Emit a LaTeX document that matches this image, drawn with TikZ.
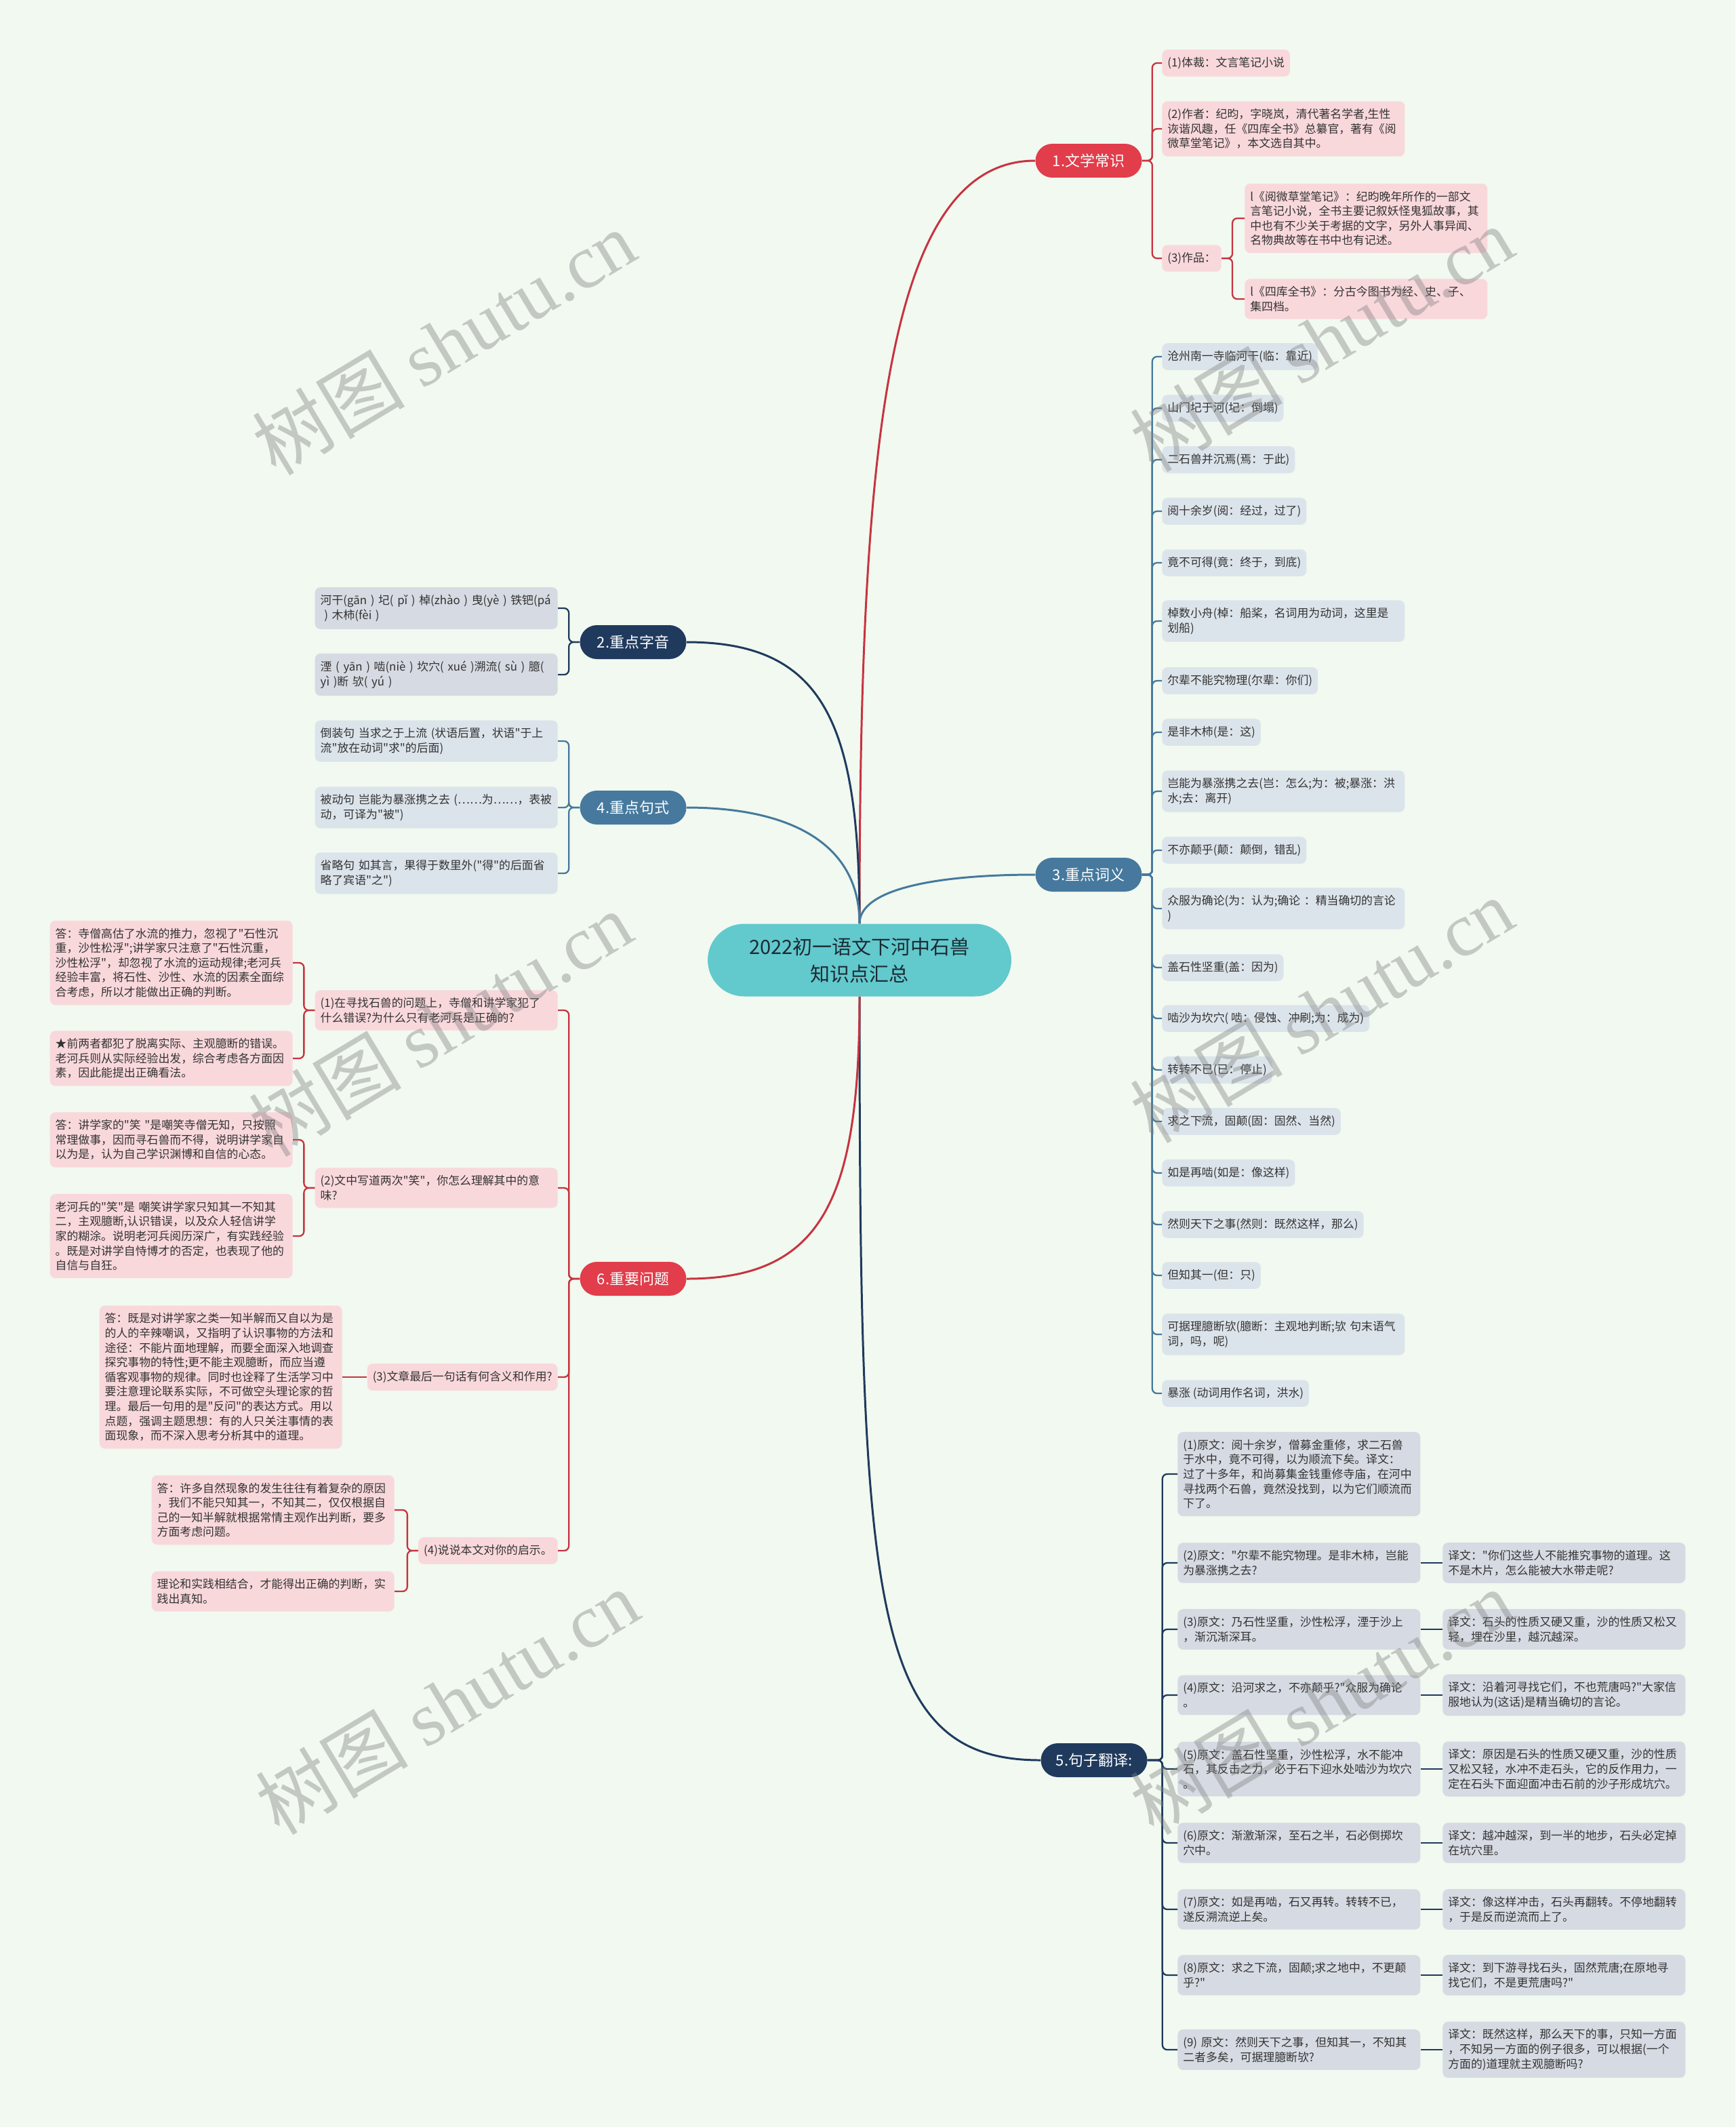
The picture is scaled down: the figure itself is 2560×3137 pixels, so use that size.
\documentclass[tikz,border=0pt]{standalone}
\usepackage{fontspec}
\setmainfont{Noto Sans CJK SC}[Ligatures=TeXOff]
\newfontfamily\wmlatin{Liberation Serif}
\usetikzlibrary{positioning}

\definecolor{bgmint}{HTML}{F1F9F0}
\definecolor{rootteal}{HTML}{62C9CD}
\definecolor{roottext}{HTML}{1B2B33}
\definecolor{redmain}{HTML}{E13D4B}
\definecolor{redline}{HTML}{C73340}
\definecolor{navymain}{HTML}{1F3A5D}
\definecolor{steelmain}{HTML}{46799D}
\definecolor{leafpink}{HTML}{F9D8DC}
\definecolor{leafgray}{HTML}{D6DAE2}
\definecolor{leafblue}{HTML}{DCE4EB}
\definecolor{leaftext}{HTML}{333333}

\begin{document}
\begin{tikzpicture}[x=0.02cm, y=-0.02cm,
    root/.style={rectangle, rounded corners=1.07cm, fill=rootteal, text=roottext,
      minimum width=8.96cm, minimum height=2.14cm, align=center,
      font=\fontsize{16.5pt}{22.7pt}\selectfont},
    topic/.style={rectangle, rounded corners=0.5cm, text=white,
      minimum width=3.14cm, minimum height=1cm, inner xsep=0.3cm,
      font=\fontsize{12.5pt}{15pt}\selectfont},
    leaf/.style={rectangle, rounded corners=0.16cm, text=leaftext, align=left,
      inner xsep=0.16cm, inner ysep=0.22cm, minimum height=0.76cm,
      font=\fontsize{9.6pt}{12.3pt}\selectfont},
    pinkbox/.style={leaf, fill=leafpink},
    graybox/.style={leaf, fill=leafgray},
    bluebox/.style={leaf, fill=leafblue},
    wide/.style={text width=6.84cm},
    mainlink/.style={line width=1.7pt},
    sublink/.style={line width=1.3pt, rounded corners=0.14cm},
    wmark/.style={text=gray, opacity=0.4, rotate=31,
      font=\fontsize{64pt}{64pt}\selectfont}]

  % canvas
  \fill[bgmint] (0,0) rectangle (2560,3137);
  \useasboundingbox (0,0) rectangle (2560,3137);

  % Centre topic
  \node[root] (root) at (1268,1416) {2022初一语文下河中石兽\\知识点汇总};

  % Main branches
  \node[topic, fill=redmain] (wx) at (1606,237) {1.文学常识};
  \node[topic, fill=navymain] (zy) at (934,947) {2.重点字音};
  \node[topic, fill=steelmain] (cy) at (1606,1290) {3.重点词义};
  \node[topic, fill=steelmain] (jx) at (934,1191) {4.重点句式};
  \node[topic, fill=navymain] (fy) at (1614,2596) {5.句子翻译:};
  \node[topic, fill=redmain] (wt) at (934,1886) {6.重要问题};

  \draw[mainlink, redline] (root.north) .. controls +(0,-700) and +(-220,0) .. (wx.west);
  \draw[mainlink, navymain] (root.north) .. controls +(0,-300) and +(200,0) .. (zy.east);
  \draw[mainlink, steelmain] (root.north) .. controls +(0,-50) and +(-150,0) .. (cy.west);
  \draw[mainlink, steelmain] (root.north) .. controls +(0,-120) and +(150,0) .. (jx.east);
  \draw[mainlink, navymain] (root.south) .. controls +(0,900) and +(-250,0) .. (fy.west);
  \draw[mainlink, redline] (root.south) .. controls +(0,300) and +(200,0) .. (wt.east);

  % 1. 文学常识
  \node[pinkbox, anchor=west] (wx1) at (1714,93) {(1)体裁：文言笔记小说};
  \node[pinkbox, wide, anchor=west] (wx2) at (1714,190) {(2)作者：纪昀，字晓岚，清代著名学者,生性\\诙谐风趣，任《四库全书》总纂官，著有《阅\\微草堂笔记》，本文选自其中。};
  \node[pinkbox, anchor=west] (wx3) at (1714,381) {(3)作品：};
  \node[pinkbox, wide, anchor=west] (wx31) at (1836,322) {l《阅微草堂笔记》：纪昀晚年所作的一部文\\言笔记小说，全书主要记叙妖怪鬼狐故事，其\\中也有不少关于考据的文字，另外人事异闻、\\名物典故等在书中也有记述。};
  \node[pinkbox, wide, anchor=west] (wx32) at (1836,441) {l《四库全书》：分古今图书为经、史、子、\\集四档。};

  \foreach \leaf in {wx1,wx2,wx3}
    \draw[sublink, redline] (wx.east) -- ++(15,0) |- (\leaf.west);
  \foreach \leaf in {wx31,wx32}
    \draw[sublink, redline] (wx3.east) -- ++(16,0) |- (\leaf.west);

  % 2. 重点字音
  \node[graybox, wide, anchor=east] (zy1) at (823,897) {河干(gān~)~圮(~pǐ~)~棹(zhào~)~曳(yè~)~铁钯(pá\\~)~木柿(fèi~)};
  \node[graybox, wide, anchor=east] (zy2) at (823,995) {湮~(~yān~)~啮(niè~)~坎穴(~xué~)溯流(~sù~)~臆(\\yì~)断~欤(~yú~)};

  \foreach \leaf in {zy1,zy2}
    \draw[sublink, navymain] (zy.west) -- ++(-16,0) |- (\leaf.east);

  % 4. 重点句式
  \node[bluebox, wide, anchor=east] (jx1) at (823,1093) {倒装句~当求之于上流~(状语后置，状语"于上\\流"放在动词"求"的后面)};
  \node[bluebox, wide, anchor=east] (jx2) at (823,1191) {被动句~岂能为暴涨携之去~(……为……，表被\\动，可译为"被")};
  \node[bluebox, wide, anchor=east] (jx3) at (823,1288) {省略句~如其言，果得于数里外("得"的后面省\\略了宾语"之")};

  \foreach \leaf in {jx1,jx2,jx3}
    \draw[sublink, steelmain] (jx.west) -- ++(-16,0) |- (\leaf.east);

  % 3. 重点词义
  \node[bluebox, anchor=west] (cy1) at (1714,526) {沧州南一寺临河干(临：靠近)};
  \node[bluebox, anchor=west] (cy2) at (1714,602) {山门圮于河(圮：倒塌)};
  \node[bluebox, anchor=west] (cy3) at (1714,678) {二石兽并沉焉(焉：于此)};
  \node[bluebox, anchor=west] (cy4) at (1714,754) {阅十余岁(阅：经过，过了)};
  \node[bluebox, anchor=west] (cy5) at (1714,830) {竟不可得(竟：终于，到底)};
  \node[bluebox, wide, anchor=west] (cy6) at (1714,916) {棹数小舟(棹：船桨，名词用为动词，这里是\\划船)};
  \node[bluebox, anchor=west] (cy7) at (1714,1004) {尔辈不能究物理(尔辈：你们)};
  \node[bluebox, anchor=west] (cy8) at (1714,1080) {是非木柿(是：这)};
  \node[bluebox, wide, anchor=west] (cy9) at (1714,1167) {岂能为暴涨携之去(岂：怎么;为：被;暴涨：洪\\水;去：离开)};
  \node[bluebox, anchor=west] (cy10) at (1714,1254) {不亦颠乎(颠：颠倒，错乱)};
  \node[bluebox, wide, anchor=west] (cy11) at (1714,1340) {众服为确论(为：认为;确论~：精当确切的言论\\)};
  \node[bluebox, anchor=west] (cy12) at (1714,1427) {盖石性坚重(盖：因为)};
  \node[bluebox, anchor=west] (cy13) at (1714,1502) {啮沙为坎穴( 啮：侵蚀、冲刷;为：成为)};
  \node[bluebox, anchor=west] (cy14) at (1714,1578) {转转不已(已：停止)};
  \node[bluebox, anchor=west] (cy15) at (1714,1654) {求之下流，固颠(固：固然、当然)};
  \node[bluebox, anchor=west] (cy16) at (1714,1730) {如是再啮(如是：像这样)};
  \node[bluebox, anchor=west] (cy17) at (1714,1806) {然则天下之事(然则：既然这样，那么)};
  \node[bluebox, anchor=west] (cy18) at (1714,1881) {但知其一(但：只)};
  \node[bluebox, wide, anchor=west] (cy19) at (1714,1968) {可据理臆断欤(臆断：主观地判断;欤~句末语气\\词，吗，呢)};
  \node[bluebox, anchor=west] (cy20) at (1714,2055) {暴涨 (动词用作名词，洪水)};

  \foreach \n in {1,...,20}
    \draw[sublink, steelmain] (cy.east) -- ++(15,0) |- (cy\n.west);

  % 5. 句子翻译: 原文 and 译文
  \node[graybox, wide, anchor=west] (fy1) at (1737,2174) {(1)原文：阅十余岁，僧募金重修，求二石兽\\于水中，竟不可得，以为顺流下矣。译文：\\过了十多年，和尚募集金钱重修寺庙，在河中\\寻找两个石兽，竟然没找到，以为它们顺流而\\下了。};
  \node[graybox, wide, anchor=west] (fy2) at (1737,2305) {(2)原文："尔辈不能究物理。是非木柿，岂能\\为暴涨携之去?};
  \node[graybox, wide, anchor=west] (fy3) at (1737,2403) {(3)原文：乃石性坚重，沙性松浮，湮于沙上\\，渐沉渐深耳。};
  \node[graybox, wide, anchor=west] (fy4) at (1737,2500) {(4)原文：沿河求之，不亦颠乎?"众服为确论\\。};
  \node[graybox, wide, anchor=west] (fy5) at (1737,2609) {(5)原文：盖石性坚重，沙性松浮，水不能冲\\石，其反击之力，必于石下迎水处啮沙为坎穴\\。};
  \node[graybox, wide, anchor=west] (fy6) at (1737,2718) {(6)原文：渐激渐深，至石之半，石必倒掷坎\\穴中。};
  \node[graybox, wide, anchor=west] (fy7) at (1737,2816) {(7)原文：如是再啮，石又再转。转转不已，\\遂反溯流逆上矣。};
  \node[graybox, wide, anchor=west] (fy8) at (1737,2913) {(8)原文：求之下流，固颠;求之地中，不更颠\\乎?"};
  \node[graybox, wide, anchor=west] (fy9) at (1737,3023) {(9)~原文：然则天下之事，但知其一，不知其\\二者多矣，可据理臆断欤?};

  \node[graybox, wide, anchor=west] (tr2) at (2128,2305) {译文："你们这些人不能推究事物的道理。这\\不是木片，怎么能被大水带走呢?};
  \node[graybox, wide, anchor=west] (tr3) at (2128,2403) {译文：石头的性质又硬又重，沙的性质又松又\\轻，埋在沙里，越沉越深。};
  \node[graybox, wide, anchor=west] (tr4) at (2128,2500) {译文：沿着河寻找它们，不也荒唐吗?"大家信\\服地认为(这话)是精当确切的言论。};
  \node[graybox, wide, anchor=west] (tr5) at (2128,2609) {译文：原因是石头的性质又硬又重，沙的性质\\又松又轻，水冲不走石头，它的反作用力，一\\定在石头下面迎面冲击石前的沙子形成坑穴。};
  \node[graybox, wide, anchor=west] (tr6) at (2128,2718) {译文：越冲越深，到一半的地步，石头必定掉\\在坑穴里。};
  \node[graybox, wide, anchor=west] (tr7) at (2128,2816) {译文：像这样冲击，石头再翻转。不停地翻转\\，于是反而逆流而上了。};
  \node[graybox, wide, anchor=west] (tr8) at (2128,2913) {译文：到下游寻找石头，固然荒唐;在原地寻\\找它们，不是更荒唐吗?"};
  \node[graybox, wide, anchor=west] (tr9) at (2128,3023) {译文：既然这样，那么天下的事，只知一方面\\，不知另一方面的例子很多，可以根据(一个\\方面的)道理就主观臆断吗?};

  \foreach \n in {1,...,9}
    \draw[sublink, navymain] (fy.east) -- ++(22,0) |- (fy\n.west);
  \foreach \n in {2,...,9}
    \draw[sublink, navymain] (fy\n.east) -- (tr\n.west);

  % 6. 重要问题
  \node[pinkbox, wide, anchor=east] (wt1) at (823,1490) {(1)在寻找石兽的问题上，寺僧和讲学家犯了\\什么错误?为什么只有老河兵是正确的?};
  \node[pinkbox, wide, anchor=east] (wt2) at (823,1752) {(2)文中写道两次"笑"，你怎么理解其中的意\\味?};
  \node[pinkbox, anchor=east] (wt3) at (823,2031) {(3)文章最后一句话有何含义和作用?};
  \node[pinkbox, anchor=east] (wt4) at (823,2287) {(4)说说本文对你的启示。};

  \node[pinkbox, wide, anchor=east] (wt1a) at (432,1420) {答：寺僧高估了水流的推力，忽视了"石性沉\\重，沙性松浮";讲学家只注意了"石性沉重，\\沙性松浮"，却忽视了水流的运动规律;老河兵\\经验丰富，将石性、沙性、水流的因素全面综\\合考虑，所以才能做出正确的判断。};
  \node[pinkbox, wide, anchor=east] (wt1b) at (432,1561) {★前两者都犯了脱离实际、主观臆断的错误。\\老河兵则从实际经验出发，综合考虑各方面因\\素，因此能提出正确看法。};
  \node[pinkbox, wide, anchor=east] (wt2a) at (432,1681) {答：讲学家的"笑~"是嘲笑寺僧无知，只按照\\常理做事，因而寻石兽而不得，说明讲学家自\\以为是，认为自己学识渊博和自信的心态。};
  \node[pinkbox, wide, anchor=east] (wt2b) at (432,1823) {老河兵的"笑"是~嘲笑讲学家只知其一不知其\\二，主观臆断,认识错误，以及众人轻信讲学\\家的糊涂。说明老河兵阅历深广，有实践经验\\。既是对讲学自恃博才的否定，也表现了他的\\自信与自狂。};
  \node[pinkbox, wide, anchor=east] (wt3a) at (505,2031) {答：既是对讲学家之类一知半解而又自以为是\\的人的辛辣嘲讽，又指明了认识事物的方法和\\途径：不能片面地理解，而要全面深入地调查\\探究事物的特性;更不能主观臆断，而应当遵\\循客观事物的规律。同时也诠释了生活学习中\\要注意理论联系实际，不可做空头理论家的哲\\理。最后一句用的是"反问"的表达方式。用以\\点题，强调主题思想：有的人只关注事情的表\\面现象，而不深入思考分析其中的道理。};
  \node[pinkbox, wide, anchor=east] (wt4a) at (582,2227) {答：许多自然现象的发生往往有着复杂的原因\\，我们不能只知其一，不知其二，仅仅根据自\\己的一知半解就根据常情主观作出判断，要多\\方面考虑问题。};
  \node[pinkbox, wide, anchor=east] (wt4b) at (582,2347) {理论和实践相结合，才能得出正确的判断，实\\践出真知。};

  \foreach \leaf in {wt1,wt2,wt3,wt4}
    \draw[sublink, redline] (wt.west) -- ++(-16,0) |- (\leaf.east);
  \foreach \leaf in {wt1a,wt1b}
    \draw[sublink, redline] (wt1.west) -- ++(-16,0) |- (\leaf.east);
  \foreach \leaf in {wt2a,wt2b}
    \draw[sublink, redline] (wt2.west) -- ++(-16,0) |- (\leaf.east);
  \draw[sublink, redline] (wt3.west) -- (wt3a.east);
  \foreach \leaf in {wt4a,wt4b}
    \draw[sublink, redline] (wt4.west) -- ++(-16,0) |- (\leaf.east);

  % watermark
  \foreach \wx/\wy in {655/505,1950/500,650/1510,1950/1490,660/2510,1950/2510}
    \node[wmark] (wm\wx) at (\wx,\wy) {树图 {\wmlatin shutu.cn}};
\end{tikzpicture}
\end{document}
